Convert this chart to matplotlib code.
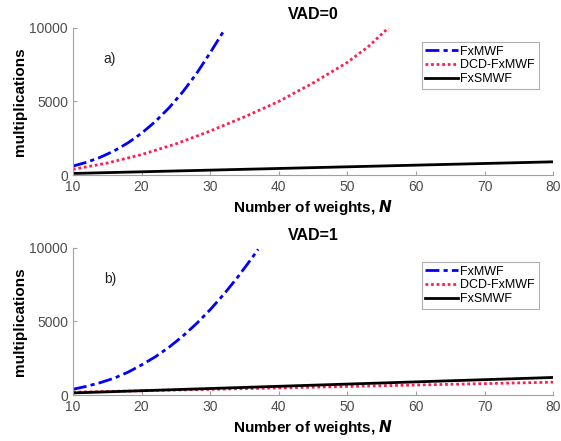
import matplotlib.pyplot as plt

plt.rcParams['font.family'] = ['Liberation Sans', 'DejaVu Sans']

# panel a) VAD=0
n_fx_a = [10, 12, 14, 16, 18, 20, 22, 24, 26, 28, 30, 32]
fx_a = [610, 870, 1210, 1640, 2180, 2840, 3630, 4560, 5640, 6880, 8300, 9800]
n_dcd_a = [10, 15, 20, 25, 30, 35, 40, 45, 50, 53, 56]
dcd_a = [390, 815, 1390, 2115, 2990, 3950, 5000, 6250, 7650, 8700, 10000]
n_s_a = [10, 80]
s_a = [110, 900]

# panel b) VAD=1
n_fx_b = [10, 12, 14, 16, 18, 20, 22, 24, 26, 28, 30, 32, 34, 36, 37]
fx_b = [400, 600, 850, 1150, 1550, 2050, 2600, 3250, 4000, 4850, 5800, 6850, 8000, 9250, 9900]
n_dcd_b = [10, 80]
dcd_b = [200, 880]
n_s_b = [10, 80]
s_b = [150, 1200]

labels = ['FxMWF', 'DCD-FxMWF', 'FxSMWF']
panels = [
    ('VAD=0', 'a)', n_fx_a, fx_a, n_dcd_a, dcd_a, n_s_a, s_a),
    ('VAD=1', 'b)', n_fx_b, fx_b, n_dcd_b, dcd_b, n_s_b, s_b),
]

fig = plt.figure(figsize=(5.61, 4.41), dpi=100)
rects = [[0.130, 0.603, 0.856, 0.334], [0.130, 0.104, 0.856, 0.334]]

for rect, (title, tag, nf, f, nd, d, ns, s) in zip(rects, panels):
    ax = fig.add_axes(rect)
    ax.plot(nf, f, color='#0000ff', ls=(0, (5, 1.5, 1.5, 1.5)), lw=2, label=labels[0])
    ax.plot(nd, d, color='#ff1f4f', ls=(0, (1, 1)), lw=2, label=labels[1])
    ax.plot(ns, s, color='black', lw=2, label=labels[2])
    ax.set_xlim(10, 80)
    ax.set_ylim(0, 10000)
    ax.set_xticks(range(10, 81, 10))
    ax.set_yticks([0, 5000, 10000])
    for side in ('top', 'right'):
        ax.spines[side].set_visible(False)
    for side in ('left', 'bottom'):
        ax.spines[side].set_color('#a0a0a0')
        ax.spines[side].set_linewidth(0.8)
    ax.tick_params(direction='in', length=3, colors='#a0a0a0', labelcolor='#4d4d4d',
                   labelsize=10)
    ax.set_title(title, fontsize=11.5, fontweight='bold', pad=6)
    ax.set_xlabel('Number of weights, $\\boldsymbol{N}$', fontsize=11, fontweight='bold', labelpad=3)
    ax.set_ylabel('multiplications', fontsize=11, fontweight='bold', labelpad=2)
    ax.text(14.5, 7600, tag, fontsize=10, color='#222222')
    leg = ax.legend(loc='upper right', bbox_to_anchor=(0.97, 0.905), fontsize=9,
                    handlelength=2.6, handletextpad=0.2, borderpad=0.3, labelspacing=0.15,
                    fancybox=False, framealpha=1, borderaxespad=0)
    leg.get_frame().set_edgecolor('#b0b0b0')
    leg.get_frame().set_linewidth(0.8)

fig.savefig('out.png')
